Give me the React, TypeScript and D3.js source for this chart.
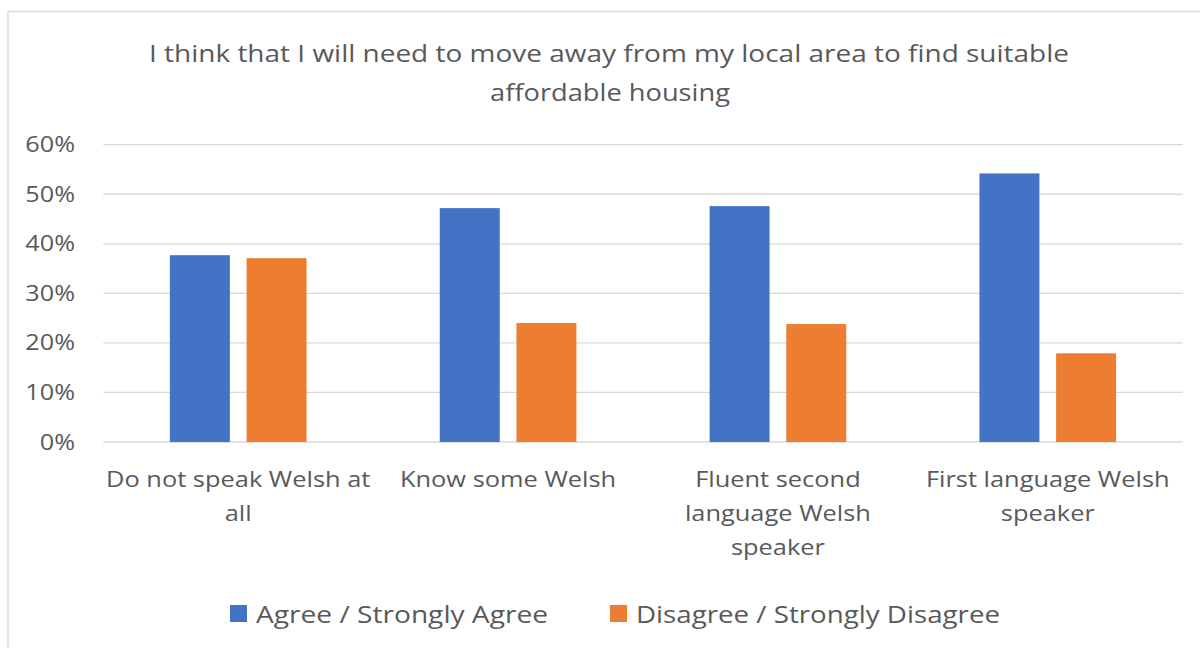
import React from "react";
import * as d3 from "d3";

const titleLines = [
  "I think that I will need to move away from my local area to find suitable",
  "affordable housing",
];
const categories = [
  "Do not speak Welsh at all",
  "Know some Welsh",
  "Fluent second language Welsh speaker",
  "First language Welsh speaker",
];
const categoryLines = [
  ["Do not speak Welsh at", "all"],
  ["Know some Welsh"],
  ["Fluent second", "language Welsh", "speaker"],
  ["First language Welsh", "speaker"],
];
const seriesNames = ["Agree / Strongly Agree", "Disagree / Strongly Disagree"];
const agreeValues = [0.377, 0.472, 0.476, 0.542];
const disagreeValues = [0.371, 0.24, 0.238, 0.179];
const yTicks = [0, 0.1, 0.2, 0.3, 0.4, 0.5, 0.6];

const COLORS = ["#4472C4", "#ED7D31"];
const TEXT = "#595959";
const GRID = "#D9D9D9";
const FONT = "'Open Sans', 'Noto Sans', sans-serif";

export default function App() {
  const W = 1200;
  const H = 648;
  const plotLeft = 103.3;
  const plotRight = 1182.7;
  const plotTop = 144.7;
  const plotBottom = 442;

  const y = d3.scaleLinear().domain([0, 0.6]).range([plotBottom, plotTop]);
  const x0 = d3.scaleBand<string>().domain(categories).range([plotLeft, plotRight]).padding(0);
  const outer = 66.6;
  const x1 = d3
    .scaleBand<string>()
    .domain(seriesNames)
    .range([outer, x0.bandwidth() - outer])
    .paddingInner(0.218)
    .paddingOuter(0);

  const series = [agreeValues, disagreeValues];
  const fmt = d3.format(".0%");

  return (
    <svg
      width={W}
      height={H}
      style={{ position: "absolute", left: 0, top: 0, background: "#fff" }}
      fontFamily={FONT}
    >
      <rect x={0} y={0} width={W} height={H} fill="#fff" />
      {/* chart border */}
      <line x1={8} y1={11.5} x2={W} y2={11.5} stroke={GRID} strokeWidth={1.5} />
      <line x1={8} y1={11.5} x2={8} y2={H} stroke={GRID} strokeWidth={1.5} />

      {/* title */}
      <text x={609} y={62} textAnchor="middle" fontSize={23} fill={TEXT} textLength={920} lengthAdjust="spacingAndGlyphs">
        {titleLines[0]}
      </text>
      <text x={610} y={101} textAnchor="middle" fontSize={23} fill={TEXT} textLength={240} lengthAdjust="spacingAndGlyphs">
        {titleLines[1]}
      </text>

      {/* gridlines */}
      {yTicks.map((t) => (
        <line key={t} x1={plotLeft} x2={plotRight} y1={y(t)} y2={y(t)} stroke={GRID} strokeWidth={1.3} />
      ))}
      {/* y labels */}
      {yTicks.map((t) => (
        <g key={"l" + t} transform={`translate(75,${y(t) + 7.5}) scale(1.2,1)`}>
          <text x={0} y={0} textAnchor="end" fontSize={21} fill={TEXT}>
            {fmt(t)}
          </text>
        </g>
      ))}

      {/* bars */}
      {categories.map((c, i) => (
        <g key={c} transform={`translate(${x0(c)},0)`}>
          {seriesNames.map((s, j) => (
            <rect
              key={s}
              x={x1(s)}
              y={y(series[j][i])}
              width={x1.bandwidth()}
              height={plotBottom - y(series[j][i])}
              fill={COLORS[j]}
            />
          ))}
        </g>
      ))}

      {/* category labels */}
      {categories.map((c, i) => (
        <g key={"c" + c} transform={`translate(${(x0(c) as number) + x0.bandwidth() / 2},0) scale(1.21,1)`}>
          <text textAnchor="middle" fontSize={21} fill={TEXT}>
            {categoryLines[i].map((ln, k) => (
              <tspan key={k} x={0} y={487.5 + k * 34}>
                {ln}
              </tspan>
            ))}
          </text>
        </g>
      ))}

      {/* legend */}
      <rect x={230} y={605} width={17} height={17} fill={COLORS[0]} />
      <text x={256} y={623} fontSize={23} fill={TEXT} textLength={292} lengthAdjust="spacingAndGlyphs">
        {seriesNames[0]}
      </text>
      <rect x={610} y={605} width={17} height={17} fill={COLORS[1]} />
      <text x={636} y={623} fontSize={23} fill={TEXT} textLength={364} lengthAdjust="spacingAndGlyphs">
        {seriesNames[1]}
      </text>
    </svg>
  );
}
